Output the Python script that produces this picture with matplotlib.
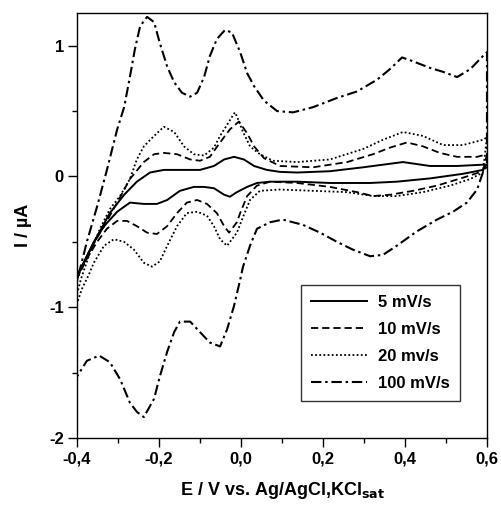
"""Cyclic voltammograms at four scan rates (E vs. Ag/AgCl, KCl sat)."""
import numpy as np
import matplotlib
matplotlib.use("Agg")
import matplotlib.pyplot as plt
from matplotlib.ticker import MultipleLocator, FuncFormatter

plt.rcParams["font.family"] = ["Liberation Sans", "DejaVu Sans"]
plt.rcParams["font.weight"] = "bold"
plt.rcParams["axes.unicode_minus"] = False
plt.rcParams["mathtext.default"] = "bf"

# --- anodic (forward) branch, then cathodic (return) branch -------------------------------
# 5 mV/s
e5_fwd = [-0.40, -0.376, -0.351, -0.32, -0.285, -0.254, -0.222, -0.188, -0.139, -0.10,
          -0.066, -0.041, -0.017, 0.007, 0.032, 0.063, 0.095, 0.137, 0.217, 0.298, 0.395,
          0.461, 0.527, 0.59, 0.60]
i5_fwd = [-0.76, -0.61, -0.46, -0.28, -0.14, -0.04, 0.03, 0.05, 0.05, 0.05,
          0.08, 0.13, 0.15, 0.13, 0.08, 0.05, 0.035, 0.03, 0.04, 0.07, 0.11,
          0.08, 0.08, 0.09, 0.09]
e5_rev = [0.60, 0.59, 0.541, 0.461, 0.38, 0.315, 0.217, 0.137, 0.071, 0.039, 0.015,
          -0.01, -0.027, -0.041, -0.066, -0.09, -0.115, -0.149, -0.18, -0.205, -0.237,
          -0.271, -0.302, -0.334, -0.359, -0.383, -0.40]
i5_rev = [0.09, 0.05, 0.02, -0.015, -0.04, -0.05, -0.05, -0.04, -0.04, -0.05, -0.08,
          -0.12, -0.155, -0.14, -0.09, -0.08, -0.08, -0.11, -0.18, -0.21, -0.21,
          -0.20, -0.27, -0.38, -0.50, -0.66, -0.76]

# 10 mV/s
e10_fwd = [-0.40, -0.368, -0.334, -0.302, -0.271, -0.237, -0.212, -0.188, -0.156, -0.124,
           -0.10, -0.076, -0.051, -0.027, -0.005, 0.015, 0.032, 0.056, 0.095, 0.176,
           0.259, 0.322, 0.363, 0.405, 0.444, 0.485, 0.527, 0.576, 0.60]
i10_fwd = [-0.78, -0.56, -0.38, -0.20, -0.02, 0.11, 0.17, 0.18, 0.17, 0.13,
           0.12, 0.15, 0.26, 0.36, 0.42, 0.33, 0.23, 0.14, 0.08, 0.07,
           0.11, 0.17, 0.22, 0.26, 0.23, 0.18, 0.15, 0.15, 0.17]
e10_rev = [0.60, 0.59, 0.541, 0.478, 0.42, 0.363, 0.322, 0.283, 0.217, 0.137, 0.071,
           0.039, 0.015, -0.002, -0.01, -0.022, -0.029, -0.041, -0.059, -0.083, -0.107,
           -0.132, -0.156, -0.18, -0.205, -0.229, -0.254, -0.278, -0.302, -0.327, -0.351,
           -0.376, -0.40]
i10_rev = [0.17, 0.04, -0.01, -0.07, -0.11, -0.14, -0.15, -0.12, -0.08, -0.05, -0.04,
           -0.07, -0.15, -0.28, -0.35, -0.40, -0.43, -0.38, -0.28, -0.21, -0.18,
           -0.20, -0.28, -0.38, -0.44, -0.43, -0.38, -0.34, -0.34, -0.40, -0.50,
           -0.63, -0.78]

# 20 mV/s
e20_fwd = [-0.40, -0.39, -0.368, -0.344, -0.32, -0.295, -0.271, -0.254, -0.237, -0.212,
           -0.188, -0.163, -0.139, -0.115, -0.09, -0.066, -0.051, -0.015, -0.01, 0.005,
           0.022, 0.046, 0.078, 0.137, 0.217, 0.298, 0.346, 0.395, 0.444, 0.493, 0.541,
           0.59, 0.60]
i20_fwd = [-0.90, -0.78, -0.58, -0.40, -0.25, -0.15, -0.02, 0.13, 0.23, 0.31,
           0.38, 0.34, 0.23, 0.17, 0.16, 0.22, 0.31, 0.49, 0.46, 0.34,
           0.23, 0.17, 0.12, 0.11, 0.13, 0.21, 0.28, 0.34, 0.31, 0.24, 0.24,
           0.28, 0.30]
e20_rev = [0.60, 0.59, 0.559, 0.51, 0.444, 0.38, 0.322, 0.259, 0.176, 0.095, 0.046,
           0.022, 0.005, -0.01, -0.034, -0.051, -0.066, -0.083, -0.107, -0.132, -0.156,
           -0.18, -0.198, -0.217, -0.237, -0.261, -0.285, -0.31, -0.334, -0.359, -0.371,
           -0.388, -0.40]
i20_rev = [0.30, 0.03, -0.02, -0.07, -0.12, -0.15, -0.15, -0.12, -0.11, -0.10, -0.11,
           -0.18, -0.31, -0.43, -0.53, -0.48, -0.38, -0.30, -0.27, -0.28, -0.38,
           -0.53, -0.65, -0.69, -0.66, -0.56, -0.50, -0.48, -0.53, -0.66, -0.75,
           -0.86, -0.97]

# 100 mV/s
e100_fwd = [-0.40, -0.40, -0.376, -0.351, -0.327, -0.302, -0.285, -0.271, -0.259, -0.246,
            -0.229, -0.212, -0.198, -0.18, -0.163, -0.144, -0.124, -0.107, -0.09, -0.076,
            -0.059, -0.039, -0.022, -0.002, 0.015, 0.032, 0.056, 0.088, 0.127, 0.176,
            0.234, 0.283, 0.332, 0.363, 0.393, 0.42, 0.461, 0.493, 0.527, 0.559, 0.59, 0.60]
i100_fwd = [-1.53, -0.80, -0.50, -0.23, 0.05, 0.36, 0.53, 0.76, 0.97, 1.15,
            1.22, 1.18, 1.02, 0.84, 0.72, 0.64, 0.61, 0.64, 0.76, 0.92,
            1.05, 1.12, 1.10, 0.95, 0.79, 0.69, 0.58, 0.50, 0.49, 0.53,
            0.60, 0.65, 0.74, 0.82, 0.91, 0.88, 0.83, 0.80, 0.76, 0.82, 0.92, 0.95]
e100_rev = [0.60, 0.60, 0.59, 0.576, 0.551, 0.517, 0.478, 0.429, 0.38, 0.346, 0.315,
            0.273, 0.234, 0.193, 0.151, 0.102, 0.071, 0.039, 0.022, 0.005, -0.002,
            -0.017, -0.034, -0.051, -0.076, -0.10, -0.124, -0.149, -0.163, -0.18, -0.198,
            -0.212, -0.237, -0.254, -0.271, -0.295, -0.32, -0.346, -0.376, -0.40]
i100_rev = [0.95, 0.08, 0.03, -0.10, -0.20, -0.27, -0.33, -0.42, -0.53, -0.60, -0.61,
            -0.56, -0.50, -0.43, -0.37, -0.33, -0.35, -0.40, -0.53, -0.69, -0.79,
            -0.99, -1.17, -1.30, -1.27, -1.19, -1.11, -1.11, -1.19, -1.34, -1.53,
            -1.70, -1.84, -1.80, -1.73, -1.55, -1.42, -1.37, -1.41, -1.53]

labels = ["5 mV/s", "10 mV/s", "20 mv/s", "100 mV/s"]
curves = [(e5_fwd, i5_fwd, e5_rev, i5_rev),
          (e10_fwd, i10_fwd, e10_rev, i10_rev),
          (e20_fwd, i20_fwd, e20_rev, i20_rev),
          (e100_fwd, i100_fwd, e100_rev, i100_rev)]
styles = [dict(ls="-", lw=1.4),
          dict(ls=(0, (4, 2.2)), lw=1.3),
          dict(ls=(0, (1, 1.3)), lw=1.3),
          dict(ls=(0, (5, 1.8, 1.2, 1.8)), lw=1.5)]

fig = plt.figure(figsize=(5.01, 5.09), dpi=100)
ax = fig.add_axes([0.1537, 0.1395, 0.8183, 0.835])

for (ef, jf, er, jr), lab, st in zip(curves, labels, styles):
    e = np.concatenate([ef, er])
    j = np.concatenate([jf, jr])
    ax.plot(e, j, color="black", label=lab, solid_joinstyle="round", **st)

ax.set_xlim(-0.4, 0.6)
ax.set_ylim(-2.0, 1.25)
ax.xaxis.set_major_locator(MultipleLocator(0.2))
ax.xaxis.set_minor_locator(MultipleLocator(0.1))
ax.yaxis.set_major_locator(MultipleLocator(1))
ax.yaxis.set_minor_locator(MultipleLocator(0.5))
ax.xaxis.set_major_formatter(FuncFormatter(lambda v, p: f"{v:.1f}".replace(".", ",").replace("-0,0", "0,0")))
ax.yaxis.set_major_formatter(FuncFormatter(lambda v, p: f"{v:.0f}".replace("-0", "0")))
ax.tick_params(which="major", direction="out", length=6.5, width=1.0, labelsize=12, pad=3)
ax.tick_params(which="minor", direction="out", length=3.6, width=1.0)
for t in ax.get_xticklabels() + ax.get_yticklabels():
    t.set_fontweight("bold")
for s in ax.spines.values():
    s.set_linewidth(1.0)

ax.set_xlabel(r"E / V vs. Ag/AgCl,KCl$_{\mathbf{sat}}$", fontsize=13, fontweight="bold", labelpad=10)
ax.set_ylabel("I / µA", fontsize=13, fontweight="bold", labelpad=12)

leg = ax.legend(loc="lower right", bbox_to_anchor=(0.954, 0.068), fontsize=12,
                frameon=True, fancybox=False, edgecolor="black", handlelength=3.4,
                handletextpad=0.65, labelspacing=0.72, borderpad=0.6)
leg.get_frame().set_linewidth(1.0)
for t in leg.get_texts():
    t.set_fontweight("bold")

fig.savefig("out.png", dpi=100)
